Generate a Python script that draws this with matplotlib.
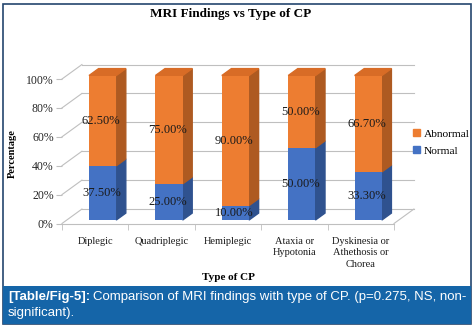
"""
MRI Findings vs Type of CP - 3D style stacked column chart
"""
import matplotlib
matplotlib.use('Agg')
import matplotlib.pyplot as plt
from matplotlib.patches import Polygon, Rectangle, Patch

# Data
categories = ['Diplegic', 'Quadriplegic', 'Hemiplegic', 'Ataxia or\nHypotonia',
              'Dyskinesia or\nAthethosis or\nChorea']
normal = [37.5, 25.0, 10.0, 50.0, 33.3]
abnormal = [62.5, 75.0, 90.0, 50.0, 66.7]
y_ticks = [0, 20, 40, 60, 80, 100]
y_tick_labels = ['0%', '20%', '40%', '60%', '80%', '100%']

W, H = 476, 328
fig = plt.figure(figsize=(W / 100, H / 100), dpi=100)

# axes placed so the front floor spans px 62..394 and 0..100% spans px 223.5..79
ax = fig.add_axes([62 / W, (H - 223.5) / H, 332 / W, 144.5 / H])
ax.set_xlim(-0.5, 4.5)
ax.set_ylim(0, 100)
for s in ax.spines.values():
    s.set_visible(False)

SERIF = 'Liberation Serif'
GRID = '#BFBFBF'
DX, DY = 0.30, 10.0        # full depth offset (data units)
D0, D1 = 0.24, 0.72        # bar front/back depth
BW = 0.41                  # bar width
SHIFT = 0.04

# back wall gridlines + left wall diagonals
x0, x1 = -0.5, 4.5
for y in y_ticks:
    ax.plot([x0, x0 + DX], [y, y + DY], color=GRID, lw=0.8, clip_on=False, zorder=1)
    ax.plot([x0 + DX, x1 + DX], [y + DY, y + DY], color=GRID, lw=0.8, clip_on=False, zorder=1)
# floor front edge and right edge
ax.plot([x0, x1], [0, 0], color=GRID, lw=0.8, clip_on=False, zorder=1)
ax.plot([x1, x1 + DX], [0, DY], color=GRID, lw=0.8, clip_on=False, zorder=1)

# bars
xs = [i + SHIFT + DX * D0 for i in range(len(categories))]
base = DY * D0
segments = [
    (normal, [0] * 5, '#4472C4', '#2F528F', '#3A62AA'),
    (abnormal, normal, '#ED7D31', '#AE5A21', '#D86C26'),
]
dx_b = DX * (D1 - D0)
dy_b = DY * (D1 - D0)
for k, (vals, bottoms, c_front, c_side, c_top) in enumerate(segments):
    ax.bar(xs, vals, BW, bottom=[b + base for b in bottoms], color=c_front,
           zorder=3, clip_on=False)
    for x, v, b in zip(xs, vals, bottoms):
        xr = x + BW / 2
        yb, yt = b + base, b + v + base
        ax.add_patch(Polygon([(xr, yb), (xr + dx_b, yb + dy_b), (xr + dx_b, yt + dy_b), (xr, yt)],
                             closed=True, color=c_side, zorder=2, clip_on=False))
        if k == 1:
            xl = x - BW / 2
            ax.add_patch(Polygon([(xl, yt), (xr, yt), (xr + dx_b, yt + dy_b), (xl + dx_b, yt + dy_b)],
                                 closed=True, color=c_top, zorder=2, clip_on=False))
        ax.text(x - 0.02, b + v / 2 + base, f'{v:.2f}%', ha='center', va='center',
                fontsize=9, family=SERIF, color='#1a1a1a', zorder=5)

# axes ticks
ax.set_yticks(y_ticks)
ax.set_yticklabels(y_tick_labels, family=SERIF, fontsize=8.5, color='#262626')
ax.tick_params(axis='y', length=4, color=GRID, pad=2)
ax.set_xticks(range(len(categories)))
ax.set_xticklabels(categories, family=SERIF, fontsize=7.5, color='#1a1a1a', linespacing=1.35)
ax.tick_params(axis='x', length=0, pad=9.5)
ax.set_xticks([i - 0.5 for i in range(len(categories) + 1)], minor=True)
ax.tick_params(axis='x', which='minor', length=4, color=GRID)

# titles
fig.text(231 / W, 1 - 14 / H, 'MRI Findings vs Type of CP', ha='center', va='center',
         family=SERIF, fontsize=9.5, fontweight='bold')
fig.text(228 / W, 1 - 277 / H, 'Type of CP', ha='center', va='center',
         family=SERIF, fontsize=8, fontweight='bold')
fig.text(12 / W, 1 - 154 / H, 'Percentage', ha='center', va='center', rotation=90,
         family=SERIF, fontsize=7.5, fontweight='bold')

# legend
handles = [Patch(color='#ED7D31', label='Abnormal'), Patch(color='#4472C4', label='Normal')]
fig.legend(handles=handles, loc='center left', bbox_to_anchor=(407 / W, 1 - 142.5 / H),
           frameon=False, prop={'family': SERIF, 'size': 8.2}, handlelength=0.6,
           handleheight=0.6, handletextpad=0.4, labelspacing=0.65, borderpad=0)

# frame and caption band
fig.patches.append(Rectangle((3 / W, 1 - 324 / H), 468 / W, 320 / H, transform=fig.transFigure,
                             fill=False, edgecolor='#24466E', lw=1.2))
fig.patches.append(Rectangle((3 / W, 1 - 324 / H), 468 / W, 38 / H, transform=fig.transFigure,
                             facecolor='#1565A8', edgecolor='none'))

t1 = fig.text(8 / W, 1 - 297 / H, '[Table/Fig-5]:', ha='left', va='center',
              family='Liberation Sans', fontsize=9.5, fontweight='bold', color='white')
fig.canvas.draw()
bb = t1.get_window_extent()
fig.text((bb.x1 + 3) / W, 1 - 297 / H,
         'Comparison of MRI findings with type of CP. (p=0.275, NS, non-',
         ha='left', va='center', family='Liberation Sans', fontsize=9.5, color='white')
fig.text(8 / W, 1 - 313 / H, 'significant).', ha='left', va='center',
         family='Liberation Sans', fontsize=9.5, color='white')

fig.savefig('out.png', dpi=100)
